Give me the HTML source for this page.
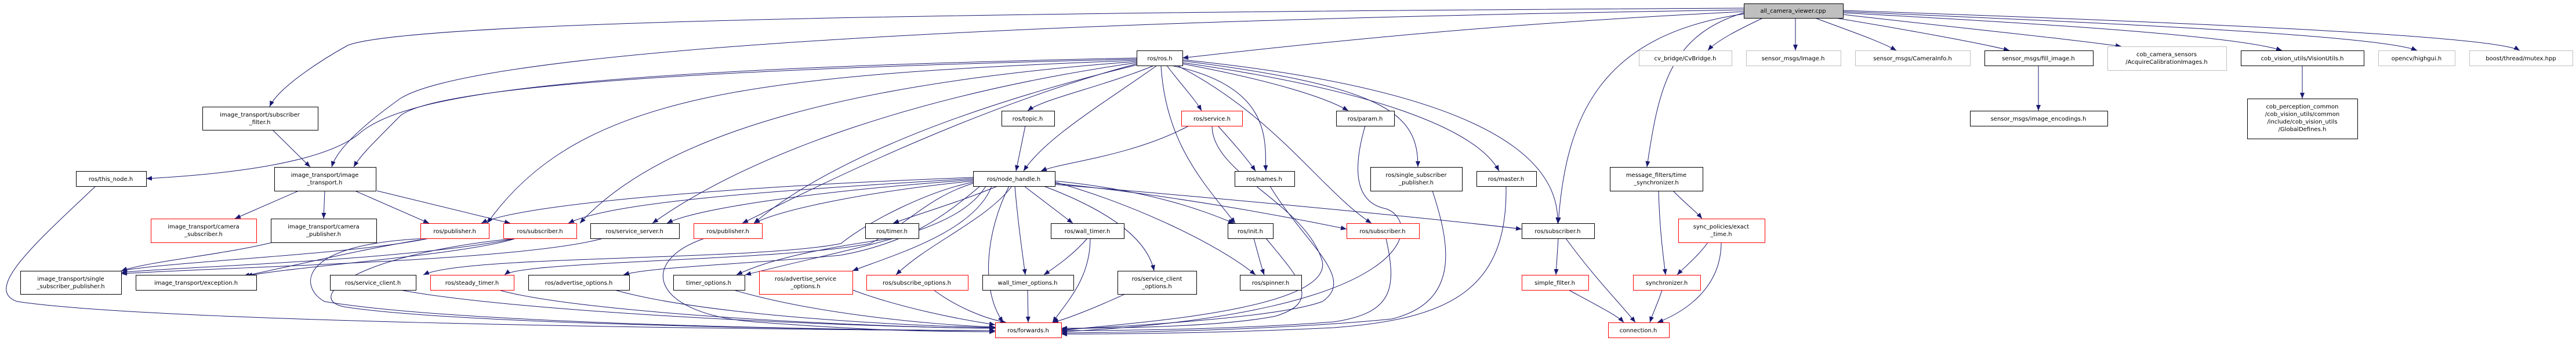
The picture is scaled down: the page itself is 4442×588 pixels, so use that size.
<!DOCTYPE html>
<html><head><meta charset="utf-8"><style>
html,body{margin:0;padding:0;background:#fff;width:4442px;height:588px;overflow:hidden}
svg text{font-family:"DejaVu Sans","Liberation Sans",sans-serif;font-size:10px;fill:#000;text-anchor:middle}
</style></head><body>
<svg width="4442" height="588" viewBox="0 0 4442 588" xmlns="http://www.w3.org/2000/svg">
<defs><marker id="a" markerWidth="10" markerHeight="8" refX="10" refY="4" orient="auto" markerUnits="userSpaceOnUse"><path d="M0,0 L10,4 L0,8 z" fill="#191970"/></marker></defs>
<g fill="none" stroke="#191970" stroke-width="1" marker-end="url(#a)">
<path d="M3007,14 C1500,22 700,40 600,78 C560,100 480,150 465,184"/>
<path d="M3007,17 C1500,40 800,100 690,170 C620,220 580,260 572,288"/>
<path d="M3007,20 C2600,40 2300,70 2039,100"/>
<path d="M3040,31 C3000,50 2960,70 2945,87"/>
<path d="M3096,31 L3096,87"/>
<path d="M3130,31 C3180,50 3240,70 3270,87"/>
<path d="M3165,31 C3280,50 3420,75 3465,87"/>
<path d="M3178,25 C3350,45 3550,65 3658,80"/>
<path d="M3178,22 C3500,40 3850,60 3935,87"/>
<path d="M3178,20 C3600,38 4100,60 4168,87"/>
<path d="M3178,18 C3700,36 4300,60 4345,87"/>
<path d="M3007,22 C2880,60 2860,150 2840,288"/>
<path d="M3007,24 C2760,60 2700,200 2687,385"/>
<path d="M3515,113 L3515,191"/>
<path d="M3970,113 L3970,170"/>
<path d="M1960,100 C1000,120 700,160 620,230 C560,280 400,300 252,308"/>
<path d="M1960,102 C1400,115 760,140 690,200 C640,250 620,270 610,288"/>
<path d="M1960,104 C1300,130 1000,160 840,385"/>
<path d="M1960,106 C1500,140 1150,220 1000,385"/>
<path d="M1960,108 C1600,160 1300,260 1125,385"/>
<path d="M1960,110 C1700,180 1450,300 1280,385"/>
<path d="M1960,112 C1600,200 1400,300 1300,385"/>
<path d="M1990,113 C1900,150 1800,170 1772,191"/>
<path d="M1995,113 C1900,180 1800,240 1765,295"/>
<path d="M2012,113 C2040,150 2060,170 2072,191"/>
<path d="M2002,113 C2010,250 2080,320 2130,385"/>
<path d="M2020,113 C2200,150 2180,250 2183,295"/>
<path d="M2030,113 C2200,200 2280,330 2365,385"/>
<path d="M2039,110 C2200,140 2290,170 2325,191"/>
<path d="M2039,105 C2400,150 2445,200 2445,288"/>
<path d="M2039,108 C2400,160 2550,230 2585,295"/>
<path d="M2039,103 C2500,150 2690,250 2686,385"/>
<path d="M1768,217 L1752,295"/>
<path d="M2050,217 C1950,270 1830,280 1795,295"/>
<path d="M2100,217 C2130,250 2155,280 2165,295"/>
<path d="M2090,217 C2090,300 2250,350 2280,450 C2300,540 1900,560 1830,570"/>
<path d="M2354,217 C2330,300 2340,350 2390,360 C2450,380 2460,540 1830,572"/>
<path d="M2190,321 C2250,420 2340,480 2280,520 C2200,550 1900,565 1830,568"/>
<path d="M2470,329 C2500,420 2520,520 2400,550 C2200,570 1900,574 1830,574"/>
<path d="M2597,321 C2600,500 2500,550 2300,565 C2100,575 1900,576 1830,576"/>
<path d="M2390,411 C2410,500 2400,540 2300,555 C2100,570 1900,570 1830,570"/>
<path d="M2183,411 C2240,480 2280,520 2200,545 C2100,565 1900,566 1830,566"/>
<path d="M2162,411 C2170,440 2175,460 2180,474"/>
<path d="M1678,306 C1300,320 900,350 830,385"/>
<path d="M1678,308 C1300,330 1050,350 980,385"/>
<path d="M1678,310 C1400,330 1200,360 1150,385"/>
<path d="M1678,312 C1500,330 1350,360 1300,385"/>
<path d="M1720,321 C1650,350 1580,370 1540,385"/>
<path d="M1766,321 L1850,385"/>
<path d="M1819,312 C2000,330 2090,370 2128,385"/>
<path d="M1819,316 C2050,340 2250,380 2322,395"/>
<path d="M1819,318 C2200,350 2500,380 2624,395"/>
<path d="M1750,321 C1755,380 1762,430 1768,474"/>
<path d="M1745,321 C1700,380 1600,420 1545,474"/>
<path d="M1800,321 C1930,370 1980,420 1990,467"/>
<path d="M1819,314 C1950,350 2100,420 2165,474"/>
<path d="M1678,314 C1600,330 1500,380 1450,420 C1300,450 800,440 730,474"/>
<path d="M1678,316 C1600,340 1560,390 1500,420 C1350,450 900,450 870,474"/>
<path d="M1690,321 C1620,380 1560,420 1450,440 C1300,455 1120,460 1075,474"/>
<path d="M1700,321 C1650,400 1500,420 1285,474"/>
<path d="M1710,321 C1680,400 1540,440 1470,467"/>
<path d="M1538,411 C1400,430 1320,450 1270,474"/>
<path d="M1875,411 C1850,440 1820,460 1800,474"/>
<path d="M1880,411 C1880,480 1840,520 1815,556"/>
<path d="M1740,321 C1700,400 1690,500 1730,556"/>
<path d="M470,224 L535,288"/>
<path d="M515,329 L405,377"/>
<path d="M560,329 L558,377"/>
<path d="M612,329 L740,385"/>
<path d="M650,329 L880,385"/>
<path d="M470,418 C380,440 260,450 209,467"/>
<path d="M740,411 C600,440 300,450 209,467"/>
<path d="M890,411 C700,450 300,460 209,470"/>
<path d="M1040,411 C900,450 400,460 209,472"/>
<path d="M740,411 C620,430 500,460 420,476"/>
<path d="M890,411 C800,440 500,460 425,476"/>
<path d="M165,321 C60,420 -30,500 30,520 C300,560 1500,570 1716,570"/>
<path d="M740,411 C500,420 520,500 560,520 C800,560 1500,570 1716,570"/>
<path d="M890,411 C600,440 520,520 600,530 C800,560 1500,570 1716,570"/>
<path d="M1215,411 C1100,450 1120,540 1300,555 C1500,570 1600,572 1716,572"/>
<path d="M690,500 C900,540 1500,565 1716,566"/>
<path d="M860,500 C1000,540 1500,565 1716,566"/>
<path d="M1060,500 C1200,540 1500,560 1716,565"/>
<path d="M1265,500 C1400,540 1600,560 1716,564"/>
<path d="M1470,500 C1550,530 1650,550 1716,560"/>
<path d="M1610,500 C1650,530 1700,550 1735,556"/>
<path d="M1772,500 L1773,556"/>
<path d="M1940,507 C1890,530 1840,550 1815,556"/>
<path d="M2687,411 L2683,474"/>
<path d="M2700,411 C2750,480 2800,530 2820,556"/>
<path d="M2705,500 C2760,530 2790,545 2800,556"/>
<path d="M2860,329 C2862,400 2868,440 2872,474"/>
<path d="M2885,329 C2905,350 2925,365 2935,377"/>
<path d="M2945,418 C2930,440 2905,460 2892,474"/>
<path d="M2968,418 C2968,500 2900,540 2858,556"/>
<path d="M2866,500 C2860,520 2850,540 2845,556"/>
</g>
<g stroke-width="1" fill="#fff">
<rect x="3007.5" y="6.5" width="171" height="25" fill="#bfbfbf" stroke="#000"/>
<rect x="349.5" y="184.5" width="199" height="40" stroke="#000"/>
<rect x="131.5" y="295.5" width="121" height="26" stroke="#000"/>
<rect x="473.5" y="288.5" width="175" height="41" stroke="#000"/>
<rect x="260.5" y="377.5" width="182" height="41" stroke="#f00"/>
<rect x="467.5" y="377.5" width="182" height="41" stroke="#000"/>
<rect x="725.5" y="385.5" width="118" height="26" stroke="#f00"/>
<rect x="868.5" y="385.5" width="126" height="26" stroke="#f00"/>
<rect x="1018.5" y="385.5" width="153" height="26" stroke="#000"/>
<rect x="1196.5" y="385.5" width="118" height="26" stroke="#f00"/>
<rect x="1492.5" y="385.5" width="92" height="26" stroke="#000"/>
<rect x="35.5" y="467.5" width="174" height="40" stroke="#000"/>
<rect x="234.5" y="474.5" width="208" height="26" stroke="#000"/>
<rect x="569.5" y="474.5" width="148" height="26" stroke="#000"/>
<rect x="742.5" y="474.5" width="144" height="26" stroke="#f00"/>
<rect x="911.5" y="474.5" width="174" height="26" stroke="#000"/>
<rect x="1161.5" y="474.5" width="123" height="26" stroke="#000"/>
<rect x="1309.5" y="467.5" width="161" height="40" stroke="#f00"/>
<rect x="1494.5" y="474.5" width="175" height="26" stroke="#f00"/>
<rect x="1960.5" y="87.5" width="79" height="26" stroke="#000"/>
<rect x="1727.5" y="191.5" width="91" height="26" stroke="#000"/>
<rect x="2037.5" y="191.5" width="105" height="26" stroke="#f00"/>
<rect x="2304.5" y="191.5" width="100" height="26" stroke="#000"/>
<rect x="1678.5" y="295.5" width="141" height="26" stroke="#000"/>
<rect x="2129.5" y="295.5" width="103" height="26" stroke="#000"/>
<rect x="2363.5" y="288.5" width="158" height="41" stroke="#000"/>
<rect x="2546.5" y="295.5" width="103" height="26" stroke="#000"/>
<rect x="2776.5" y="288.5" width="160" height="41" stroke="#000"/>
<rect x="2826.5" y="87.5" width="160" height="26" stroke="#bfbfbf"/>
<rect x="1812.5" y="385.5" width="126" height="26" stroke="#000"/>
<rect x="2117.5" y="385.5" width="78" height="26" stroke="#000"/>
<rect x="2322.5" y="385.5" width="125" height="26" stroke="#f00"/>
<rect x="2624.5" y="385.5" width="125" height="26" stroke="#000"/>
<rect x="2894.5" y="377.5" width="149" height="41" stroke="#f00"/>
<rect x="1694.5" y="474.5" width="157" height="26" stroke="#000"/>
<rect x="1927.5" y="467.5" width="136" height="40" stroke="#000"/>
<rect x="2138.5" y="474.5" width="106" height="26" stroke="#000"/>
<rect x="2624.5" y="474.5" width="115" height="26" stroke="#f00"/>
<rect x="2816.5" y="474.5" width="116" height="26" stroke="#f00"/>
<rect x="1716.5" y="556.5" width="114" height="26" stroke="#f00"/>
<rect x="2773.5" y="556.5" width="105" height="26" stroke="#f00"/>
<rect x="3011.5" y="87.5" width="163" height="26" stroke="#bfbfbf"/>
<rect x="3199.5" y="87.5" width="198" height="26" stroke="#bfbfbf"/>
<rect x="3422.5" y="87.5" width="187" height="26" stroke="#000"/>
<rect x="3634.5" y="80.5" width="205" height="41" stroke="#bfbfbf"/>
<rect x="3864.5" y="87.5" width="212" height="26" stroke="#000"/>
<rect x="4101.5" y="87.5" width="132" height="26" stroke="#bfbfbf"/>
<rect x="4258.5" y="87.5" width="178" height="26" stroke="#bfbfbf"/>
<rect x="3397.5" y="191.5" width="237" height="26" stroke="#000"/>
<rect x="3875.5" y="170.5" width="190" height="69" stroke="#000"/>
</g>
<g>
<text x="3092" y="22">all_camera_viewer.cpp</text>
<text x="448" y="201">image_transport/subscriber</text><text x="448" y="214">_filter.h</text>
<text x="191" y="312">ros/this_node.h</text>
<text x="560" y="305">image_transport/image</text><text x="560" y="318">_transport.h</text>
<text x="351" y="394">image_transport/camera</text><text x="351" y="407">_subscriber.h</text>
<text x="558" y="394">image_transport/camera</text><text x="558" y="407">_publisher.h</text>
<text x="784" y="402">ros/publisher.h</text>
<text x="931" y="402">ros/subscriber.h</text>
<text x="1094" y="402">ros/service_server.h</text>
<text x="1255" y="402">ros/publisher.h</text>
<text x="1538" y="402">ros/timer.h</text>
<text x="122" y="484">image_transport/single</text><text x="122" y="497">_subscriber_publisher.h</text>
<text x="338" y="491">image_transport/exception.h</text>
<text x="643" y="491">ros/service_client.h</text>
<text x="814" y="491">ros/steady_timer.h</text>
<text x="998" y="491">ros/advertise_options.h</text>
<text x="1222" y="491">timer_options.h</text>
<text x="1389" y="484">ros/advertise_service</text><text x="1389" y="497">_options.h</text>
<text x="1581" y="491">ros/subscribe_options.h</text>
<text x="2000" y="104">ros/ros.h</text>
<text x="1772" y="208">ros/topic.h</text>
<text x="2090" y="208">ros/service.h</text>
<text x="2354" y="208">ros/param.h</text>
<text x="1748" y="312">ros/node_handle.h</text>
<text x="2180" y="312">ros/names.h</text>
<text x="2442" y="305">ros/single_subscriber</text><text x="2442" y="318">_publisher.h</text>
<text x="2597" y="312">ros/master.h</text>
<text x="2856" y="305">message_filters/time</text><text x="2856" y="318">_synchronizer.h</text>
<text x="2906" y="104">cv_bridge/CvBridge.h</text>
<text x="1875" y="402">ros/wall_timer.h</text>
<text x="2156" y="402">ros/init.h</text>
<text x="2384" y="402">ros/subscriber.h</text>
<text x="2686" y="402">ros/subscriber.h</text>
<text x="2968" y="394">sync_policies/exact</text><text x="2968" y="407">_time.h</text>
<text x="1772" y="491">wall_timer_options.h</text>
<text x="1995" y="484">ros/service_client</text><text x="1995" y="497">_options.h</text>
<text x="2191" y="491">ros/spinner.h</text>
<text x="2681" y="491">simple_filter.h</text>
<text x="2874" y="491">synchronizer.h</text>
<text x="1773" y="573">ros/forwards.h</text>
<text x="2825" y="573">connection.h</text>
<text x="3092" y="104">sensor_msgs/Image.h</text>
<text x="3298" y="104">sensor_msgs/CameraInfo.h</text>
<text x="3515" y="104">sensor_msgs/fill_image.h</text>
<text x="3736" y="97">cob_camera_sensors</text><text x="3736" y="110">/AcquireCalibrationImages.h</text>
<text x="3970" y="104">cob_vision_utils/VisionUtils.h</text>
<text x="4167" y="104">opencv/highgui.h</text>
<text x="4347" y="104">boost/thread/mutex.hpp</text>
<text x="3515" y="208">sensor_msgs/image_encodings.h</text>
<text x="3970" y="187">cob_perception_common</text><text x="3970" y="200">/cob_vision_utils/common</text><text x="3970" y="213">/include/cob_vision_utils</text><text x="3970" y="226">/GlobalDefines.h</text>
</g>
</svg>
</body></html>
